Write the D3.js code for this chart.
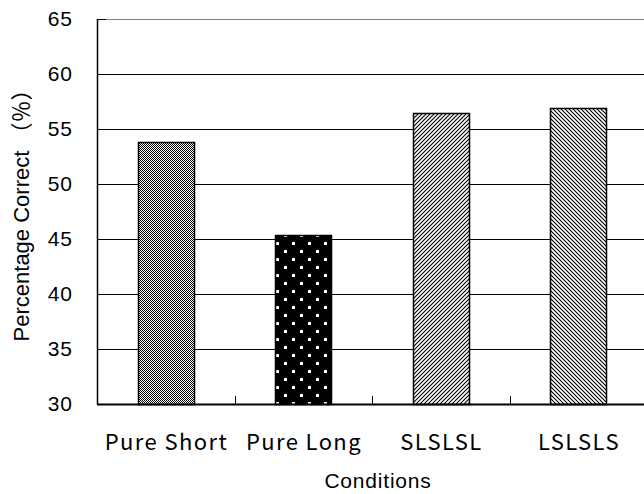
<!DOCTYPE html>
<html>
<head>
<meta charset="utf-8">
<script src="https://cdn.jsdelivr.net/npm/d3@7"></script>
<style>
  body { margin: 0; background: #fff; }
  svg { display: block; }
</style>
</head>
<body>
<div id="painting"></div>
<script>
// data
var categories = ["Pure Short", "Pure Long", "SLSLSL", "LSLSLS"];
var values = [53.8, 45.3, 56.4, 56.9];
var patterns = ["dots", "blackdots", "hatchR", "hatchL"];
var yTicks = [30, 35, 40, 45, 50, 55, 60, 65];

var W = 644, H = 494;
var margin = {top: 18.5, left: 97, right: -3, bottom: 90};

var svg = d3.select("#painting").append("svg")
  .attr("width", W).attr("height", H);

var defs = svg.append("defs");

// fine gray checker
var p1 = defs.append("pattern").attr("id", "dots")
  .attr("patternUnits", "userSpaceOnUse").attr("width", 2).attr("height", 2);
p1.append("rect").attr("width", 2).attr("height", 2).attr("fill", "#fff");
p1.append("rect").attr("width", 1).attr("height", 1).attr("fill", "#000");
p1.append("rect").attr("x", 1).attr("y", 1).attr("width", 1).attr("height", 1).attr("fill", "#000");

// black with white squares
var p2 = defs.append("pattern").attr("id", "blackdots")
  .attr("patternUnits", "userSpaceOnUse").attr("width", 16).attr("height", 16)
  .attr("x", 4).attr("y", 2);
p2.append("rect").attr("width", 16).attr("height", 16).attr("fill", "#000");
p2.append("rect").attr("x", 0).attr("y", 0).attr("width", 3).attr("height", 3).attr("fill", "#fff");
p2.append("rect").attr("x", 8).attr("y", 8).attr("width", 3).attr("height", 3).attr("fill", "#fff");

// diagonal hatch, rising to the right
var p3 = defs.append("pattern").attr("id", "hatchR")
  .attr("patternUnits", "userSpaceOnUse").attr("width", 4).attr("height", 4);
p3.append("rect").attr("width", 4).attr("height", 4).attr("fill", "#fff");
p3.append("path").attr("d", "M-1,1 L1,-1 M0,4 L4,0 M3,5 L5,3")
  .attr("stroke", "#000").attr("stroke-width", 1.1);

// diagonal hatch, falling to the right
var p4 = defs.append("pattern").attr("id", "hatchL")
  .attr("patternUnits", "userSpaceOnUse").attr("width", 4).attr("height", 4);
p4.append("rect").attr("width", 4).attr("height", 4).attr("fill", "#fff");
p4.append("path").attr("d", "M-1,3 L1,5 M0,0 L4,4 M3,-1 L5,1")
  .attr("stroke", "#000").attr("stroke-width", 1.1);

var x = d3.scaleBand().domain(categories)
  .range([margin.left, W - margin.right]).padding(0);
var y = d3.scaleLinear().domain([30, 65])
  .range([H - margin.bottom, margin.top]);

var barW = x.bandwidth() * 0.41;

// gridlines
svg.append("g").selectAll("line")
  .data(yTicks.filter(function(d){ return d > 30; }))
  .enter().append("line")
  .attr("x1", margin.left).attr("x2", W)
  .attr("y1", function(d){ return Math.round(y(d)) + 0.5; })
  .attr("y2", function(d){ return Math.round(y(d)) + 0.5; })
  .attr("stroke", function(d){ return d == 65 ? "#808080" : "#000"; })
  .attr("stroke-width", 1);

// bars
svg.append("g").selectAll("rect")
  .data(values)
  .enter().append("rect")
  .attr("x", function(d, i){ return Math.round(x(categories[i]) + (x.bandwidth() - barW) / 2) + 0.5; })
  .attr("y", function(d){ return Math.round(y(d)) + 0.5; })
  .attr("width", Math.round(barW))
  .attr("height", function(d){ return Math.round(y(30)) - Math.round(y(d)); })
  .attr("fill", function(d, i){ return "url(#" + patterns[i] + ")"; })
  .attr("stroke", "#000").attr("stroke-width", 1.5);

// y axis
var yAxis = d3.axisLeft(y).tickValues(yTicks).tickSize(0).tickPadding(24);
var gy = svg.append("g").attr("transform", "translate(" + margin.left + ",0)").call(yAxis);
gy.select(".domain").attr("stroke", "#000").attr("stroke-width", 1.5);
gy.selectAll("text").attr("font-family", "Liberation Sans, Arial, sans-serif")
  .attr("font-size", 21).attr("letter-spacing", 1).attr("fill", "#000");
// short inner ticks
svg.append("g").selectAll("line").data(yTicks).enter().append("line")
  .attr("x1", margin.left).attr("x2", margin.left + 9)
  .attr("y1", function(d){ return Math.round(y(d)) + 0.5; })
  .attr("y2", function(d){ return Math.round(y(d)) + 0.5; })
  .attr("stroke", "#000");

// x axis
var yBase = Math.round(y(30));
svg.append("line").attr("x1", margin.left).attr("x2", W)
  .attr("y1", yBase + 0.5).attr("y2", yBase + 0.5)
  .attr("stroke", "#000").attr("stroke-width", 2);
svg.append("g").selectAll("line")
  .data(categories.slice(1))
  .enter().append("line")
  .attr("x1", function(d){ return Math.round(x(d)) + 0.5; })
  .attr("x2", function(d){ return Math.round(x(d)) + 0.5; })
  .attr("y1", yBase).attr("y2", yBase - 8)
  .attr("stroke", "#000");

svg.append("g").selectAll("text")
  .data(categories)
  .enter().append("text")
  .attr("x", function(d){ return x(d) + x.bandwidth() / 2 + 0.7; })
  .attr("y", 450)
  .attr("text-anchor", "middle")
  .attr("font-family", "Noto Sans CJK JP, sans-serif")
  .attr("font-size", 22)
  .attr("letter-spacing", 1.4)
  .text(function(d){ return d; });

svg.append("text")
  .attr("x", 378).attr("y", 488)
  .attr("text-anchor", "middle")
  .attr("font-family", "Liberation Sans, Arial, sans-serif")
  .attr("font-size", 21)
  .attr("letter-spacing", 0.8)
  .text("Conditions");

var title = svg.append("text")
  .attr("transform", "translate(29,210) rotate(-90)")
  .attr("text-anchor", "middle")
  .attr("font-family", "Liberation Sans, Arial, sans-serif")
  .attr("font-size", 22);
title.append("tspan").text("Percentage Correct ");
title.append("tspan").attr("font-family", "Noto Sans CJK JP, sans-serif").text("（％）");
</script>
</body>
</html>
